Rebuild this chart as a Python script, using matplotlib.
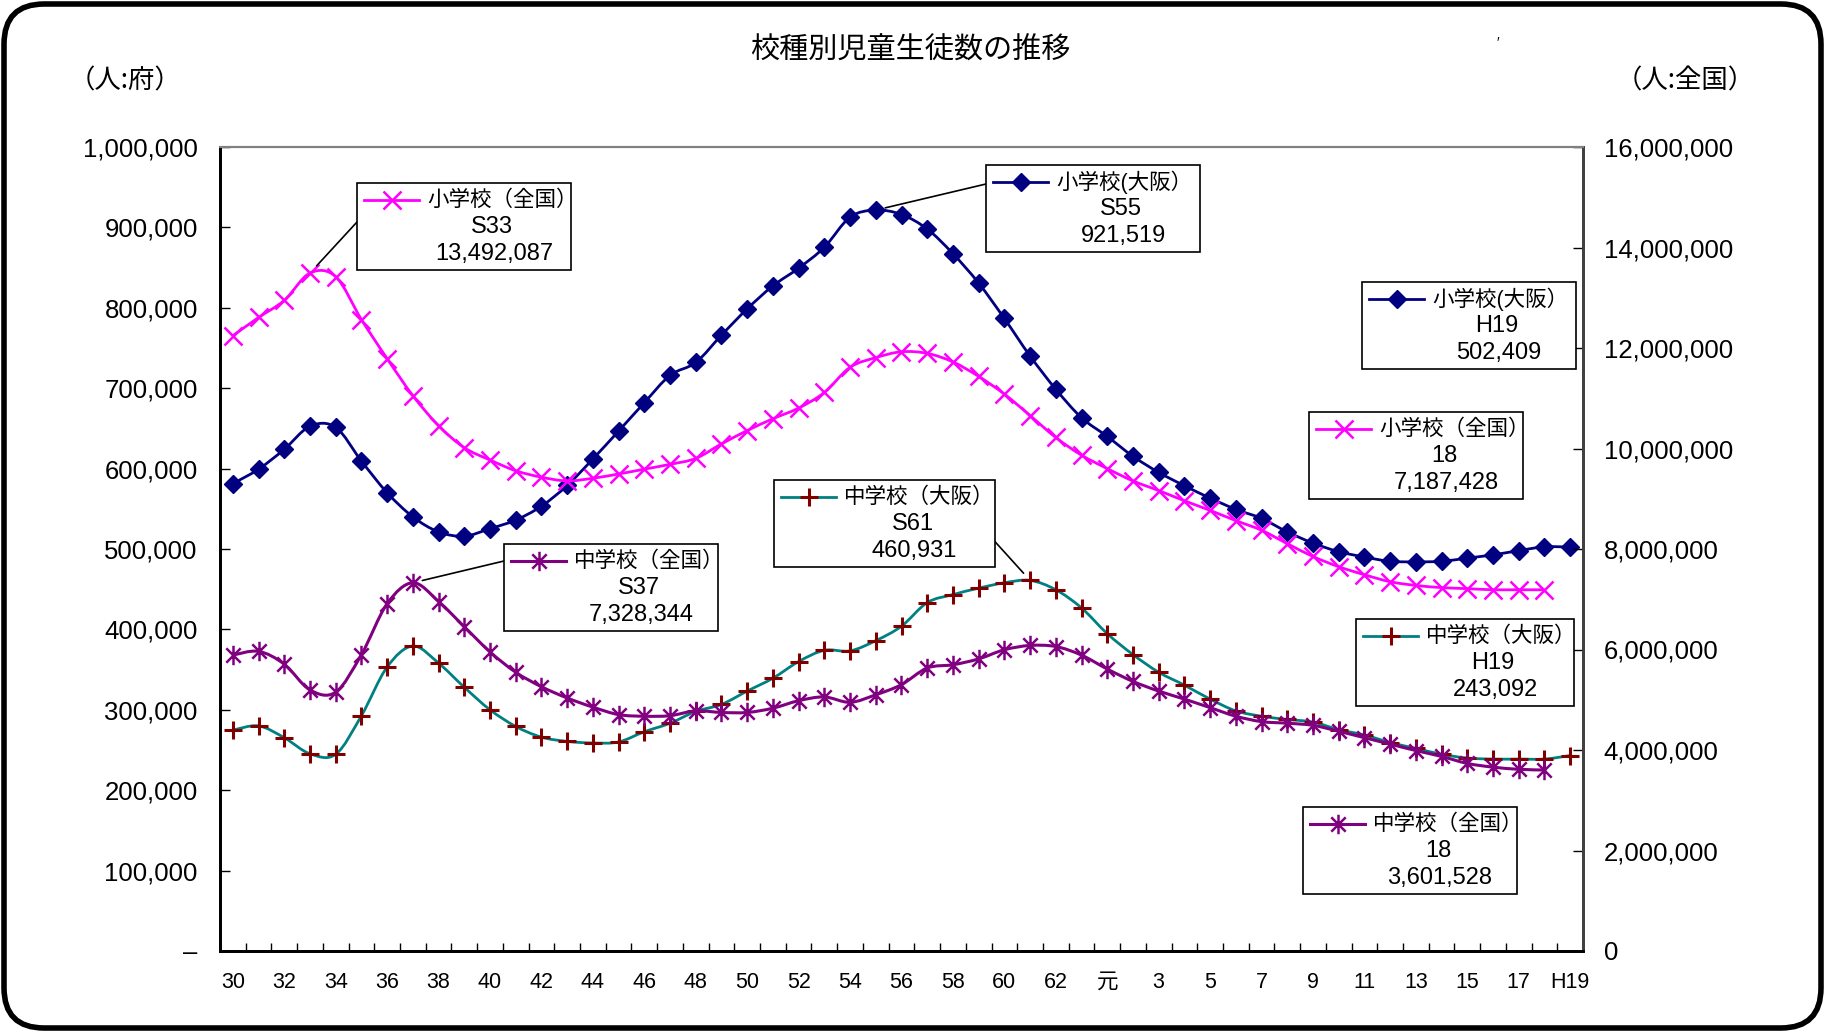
import numpy as np
import matplotlib
matplotlib.use('Agg')
import matplotlib.pyplot as plt
from matplotlib.patches import Rectangle, FancyBboxPatch, PathPatch
from matplotlib.lines import Line2D
from matplotlib.path import Path

#------ Datos (S30 .. H19) -------
nendo = ['S30', 'S31', 'S32', 'S33', 'S34', 'S35', 'S36', 'S37', 'S38', 'S39',
         'S40', 'S41', 'S42', 'S43', 'S44', 'S45', 'S46', 'S47', 'S48', 'S49',
         'S50', 'S51', 'S52', 'S53', 'S54', 'S55', 'S56', 'S57', 'S58', 'S59',
         'S60', 'S61', 'S62', 'S63', 'H1', 'H2', 'H3', 'H4', 'H5', 'H6',
         'H7', 'H8', 'H9', 'H10', 'H11', 'H12', 'H13', 'H14', 'H15', 'H16',
         'H17', 'H18', 'H19']

xtick_labels = ['30', '32', '34', '36', '38', '40', '42', '44', '46', '48', '50',
                '52', '54', '56', '58', '60', '62', '元', '3', '5', '7', '9',
                '11', '13', '15', '17', 'H19']

# 小学校(大阪) - eje izquierdo
sho_osaka = [581300, 599300, 624000, 652700, 651300, 609300, 570000, 540000, 521300, 516000,
             525300, 536000, 553300, 579000, 612000, 646700, 682000, 716000, 732000, 766000,
             798700, 827300, 849300, 875300, 912700, 921519, 916000, 898000, 867300, 830700,
             786700, 740000, 698700, 663300, 640000, 615300, 595300, 578700, 563300, 549300,
             538000, 521300, 507300, 496700, 490000, 484700, 484000, 484700, 488700, 492700,
             498000, 502700, 502409]

# 小学校(全国) - eje derecho (hasta H18)
sho_zenkoku = [12245000, 12608000, 12949000, 13492087, 13419000, 12565000, 11787000, 11051000,
               10453000, 10016000, 9771000, 9557000, 9429000, 9355000, 9408000, 9493000,
               9589000, 9685000, 9803000, 10091000, 10357000, 10592000, 10805000, 11115000,
               11616000, 11808000, 11925000, 11893000, 11723000, 11435000, 11083000, 10656000,
               10219000, 9867000, 9600000, 9355000, 9163000, 8960000, 8768000, 8565000,
               8373000, 8107000, 7851000, 7648000, 7488000, 7349000, 7275000, 7232000,
               7211000, 7189000, 7189000, 7187428]

# 中学校(大阪) - eje izquierdo
chu_osaka = [274700, 280000, 265300, 245300, 244700, 292700, 353300, 379300, 358000, 328000,
             300000, 279300, 266000, 260700, 258700, 260000, 272700, 283300, 298000, 306700,
             323300, 339300, 360000, 374000, 373300, 386000, 404000, 433300, 443300, 451300,
             458000, 460931, 449300, 426700, 394700, 368700, 346700, 330700, 313300, 298700,
             292000, 288000, 284700, 275300, 268700, 259300, 252000, 244700, 240000, 238700,
             238700, 238700, 243092]

# 中学校(全国) - eje derecho (hasta H18)
chu_zenkoku = [5888000, 5963000, 5707000, 5195000, 5152000, 5899000, 6912000, 7328344,
               6955000, 6453000, 5952000, 5547000, 5259000, 5035000, 4853000, 4704000,
               4672000, 4683000, 4779000, 4747000, 4747000, 4832000, 4981000, 5056000,
               4949000, 5099000, 5301000, 5632000, 5696000, 5813000, 5995000, 6080000,
               6059000, 5888000, 5611000, 5365000, 5173000, 5013000, 4843000, 4672000,
               4565000, 4533000, 4491000, 4373000, 4245000, 4117000, 3989000, 3872000,
               3733000, 3659000, 3616000, 3601528]

#------ Figura -------
W, H = 1825, 1032
plt.rcParams['font.family'] = ['Liberation Sans', 'Noto Sans CJK JP']

fig = plt.figure(figsize=(W / 100, H / 100), dpi=100)
fig.patch.set_facecolor('white')

def fx(px):
    return px / W

def fy(py):
    return 1 - py / H

ax = fig.add_axes([fx(220), fy(951), fx(1583) - fx(220), fy(147) - fy(951)])
ax2 = ax.twinx()

# marcador asterisco tipo Excel
star = Path([(-1, -1), (1, 1), (-1, 1), (1, -1), (0, -1.35), (0, 1.35)],
            [Path.MOVETO, Path.LINETO, Path.MOVETO, Path.LINETO, Path.MOVETO, Path.LINETO])

estilos = {
    'sho_osaka':   dict(color='#000080', lw=2, marker='D', ms=9, mfc='#000080', mec='#000080'),
    'sho_zenkoku': dict(color='#FF00FF', lw=2, marker='x', ms=13, mew=1.8, mec='#FF00FF'),
    'chu_osaka':   dict(color='#008080', lw=2, marker='+', ms=13, mew=2.2, mec='#800000'),
    'chu_zenkoku': dict(color='#800080', lw=2.2, marker=star, ms=14, mew=1.8, mec='#800080'),
}

def linea_suave(eje, y, est):
    """Linea suavizada (bezier tipo Excel) + marcadores en los puntos"""
    x = np.arange(len(y), dtype=float)
    y = np.asarray(y, dtype=float)
    verts = [(x[0], y[0])]
    codes = [Path.MOVETO]
    n = len(y)
    for i in range(n - 1):
        x0, y0 = x[max(i - 1, 0)], y[max(i - 1, 0)]
        x3, y3 = x[min(i + 2, n - 1)], y[min(i + 2, n - 1)]
        c1 = (x[i] + (x[i + 1] - x0) / 6, y[i] + (y[i + 1] - y0) / 6)
        c2 = (x[i + 1] - (x3 - x[i]) / 6, y[i + 1] - (y3 - y[i]) / 6)
        verts += [c1, c2, (x[i + 1], y[i + 1])]
        codes += [Path.CURVE4] * 3
    eje.add_patch(PathPatch(Path(verts, codes), facecolor='none', edgecolor=est['color'],
                            lw=est['lw'], zorder=3))
    eje.plot(x, y, ls='none', marker=est['marker'], ms=est['ms'], mew=est.get('mew', 1),
             mfc=est.get('mfc', 'none'), mec=est['mec'], zorder=4)

linea_suave(ax, sho_osaka, estilos['sho_osaka'])
linea_suave(ax, chu_osaka, estilos['chu_osaka'])
linea_suave(ax2, sho_zenkoku, estilos['sho_zenkoku'])
linea_suave(ax2, chu_zenkoku, estilos['chu_zenkoku'])

#------ Ejes -------
ax.set_xlim(-0.5, len(nendo) - 0.5)
ax.set_ylim(0, 1000000)
ax2.set_ylim(0, 16000000)

yt = np.arange(0, 1000001, 100000)
ax.set_yticks(yt)
ax.set_yticklabels(['–' if v == 0 else f'{v:,}' for v in yt], fontsize=18.5)
yt2 = np.arange(0, 16000001, 2000000)
ax2.set_yticks(yt2)
ax2.set_yticklabels([f'{v:,}' for v in yt2], fontsize=18.5)

ax.set_xticks(np.arange(0, len(nendo), 2))
ax.set_xticklabels(xtick_labels, fontsize=15.5)
ax.set_xticks(np.arange(-0.5, len(nendo), 1), minor=True)
ax.tick_params(axis='x', which='major', length=0, pad=15)
ax.tick_params(axis='x', which='minor', length=6, direction='in', width=1)
ax.tick_params(axis='y', direction='in', length=7, width=1, pad=16)
ax2.tick_params(axis='y', direction='in', length=7, width=1, pad=15)

for a in (ax, ax2):
    a.spines['top'].set_color('#808080')
    a.spines['top'].set_linewidth(1.5)
    a.spines['left'].set_linewidth(2)
    a.spines['bottom'].set_linewidth(2)
    a.spines['right'].set_linewidth(2)
    a.spines['right'].set_color('#404040')

#------ Textos -------
fig.text(fx(910), fy(51), '校種別児童生徒数の推移', ha='center', va='center',
         fontsize=21, family=['Noto Sans CJK JP'])
fig.text(fx(125), fy(81), '（人:府）', ha='center', va='center', fontsize=19,
         family=['Noto Sans CJK JP'])
fig.text(fx(1685), fy(81), '（人:全国）', ha='center', va='center', fontsize=19,
         family=['Noto Sans CJK JP'])
fig.text(fx(1498), fy(43), '′', ha='center', va='center', fontsize=10)

#------ Cuadros de anotacion -------
def cuadro(eje, serie, idx, sub, nombre, est, x0, y0, w=214, h=87, linea=None):
    fig.add_artist(Rectangle((fx(x0), fy(y0 + h)), w / W, h / H, transform=fig.transFigure,
                             facecolor='white', edgecolor='black', lw=1.2, zorder=5))
    fig.add_artist(Line2D([fx(x0 + 7), fx(x0 + 62)], [fy(y0 + 17)] * 2, transform=fig.transFigure,
                          color=est['color'], lw=est['lw'], zorder=6))
    fig.add_artist(Line2D([fx(x0 + 35)], [fy(y0 + 17)], transform=fig.transFigure,
                          marker=est['marker'], ms=est['ms'], mew=est.get('mew', 1),
                          mfc=est.get('mfc', 'none'), mec=est['mec'], ls='none', zorder=7))
    fig.text(fx(x0 + 70), fy(y0 + 17), nombre, ha='left', va='center', fontsize=15.5, zorder=8)
    fig.text(fx(x0 + w / 2 + 28), fy(y0 + 44), sub, ha='center', va='center', fontsize=17, zorder=8)
    fig.text(fx(x0 + w / 2 + 30), fy(y0 + 71), f'{serie[idx]:,}', ha='center', va='center',
             fontsize=17, zorder=8)
    if linea is not None:
        eje.annotate('', xy=(idx, serie[idx]), xycoords='data',
                     xytext=(linea[0], H - linea[1]), textcoords='figure pixels',
                     arrowprops=dict(arrowstyle='-', color='black', lw=1.2,
                                     shrinkA=0, shrinkB=7), zorder=9)

cuadro(ax2, sho_zenkoku, 3, 'S33', '小学校（全国）', estilos['sho_zenkoku'], 357, 183, linea=(357, 222))
cuadro(ax, sho_osaka, 25, 'S55', '小学校(大阪）', estilos['sho_osaka'], 986, 165, linea=(986, 184))
cuadro(ax, sho_osaka, 52, 'H19', '小学校(大阪）', estilos['sho_osaka'], 1362, 282)
cuadro(ax2, sho_zenkoku, 51, '18', '小学校（全国）', estilos['sho_zenkoku'], 1309, 412)
cuadro(ax, chu_osaka, 31, 'S61', '中学校（大阪）', estilos['chu_osaka'], 774, 480, w=221, linea=(979, 524))
cuadro(ax2, chu_zenkoku, 7, 'S37', '中学校（全国）', estilos['chu_zenkoku'], 504, 544, linea=(504, 561))
cuadro(ax, chu_osaka, 52, 'H19', '中学校（大阪）', estilos['chu_osaka'], 1356, 619, w=218)
cuadro(ax2, chu_zenkoku, 51, '18', '中学校（全国）', estilos['chu_zenkoku'], 1303, 807)

#------ Marco redondeado -------
fig.add_artist(FancyBboxPatch((fx(4), fy(1028)), fx(1821) - fx(4), fy(4) - fy(1028),
                              boxstyle='round,pad=0,rounding_size=0.022',
                              mutation_aspect=W / H, transform=fig.transFigure,
                              facecolor='none', edgecolor='black', lw=4, zorder=10))

fig.savefig('out.png', dpi=100)
